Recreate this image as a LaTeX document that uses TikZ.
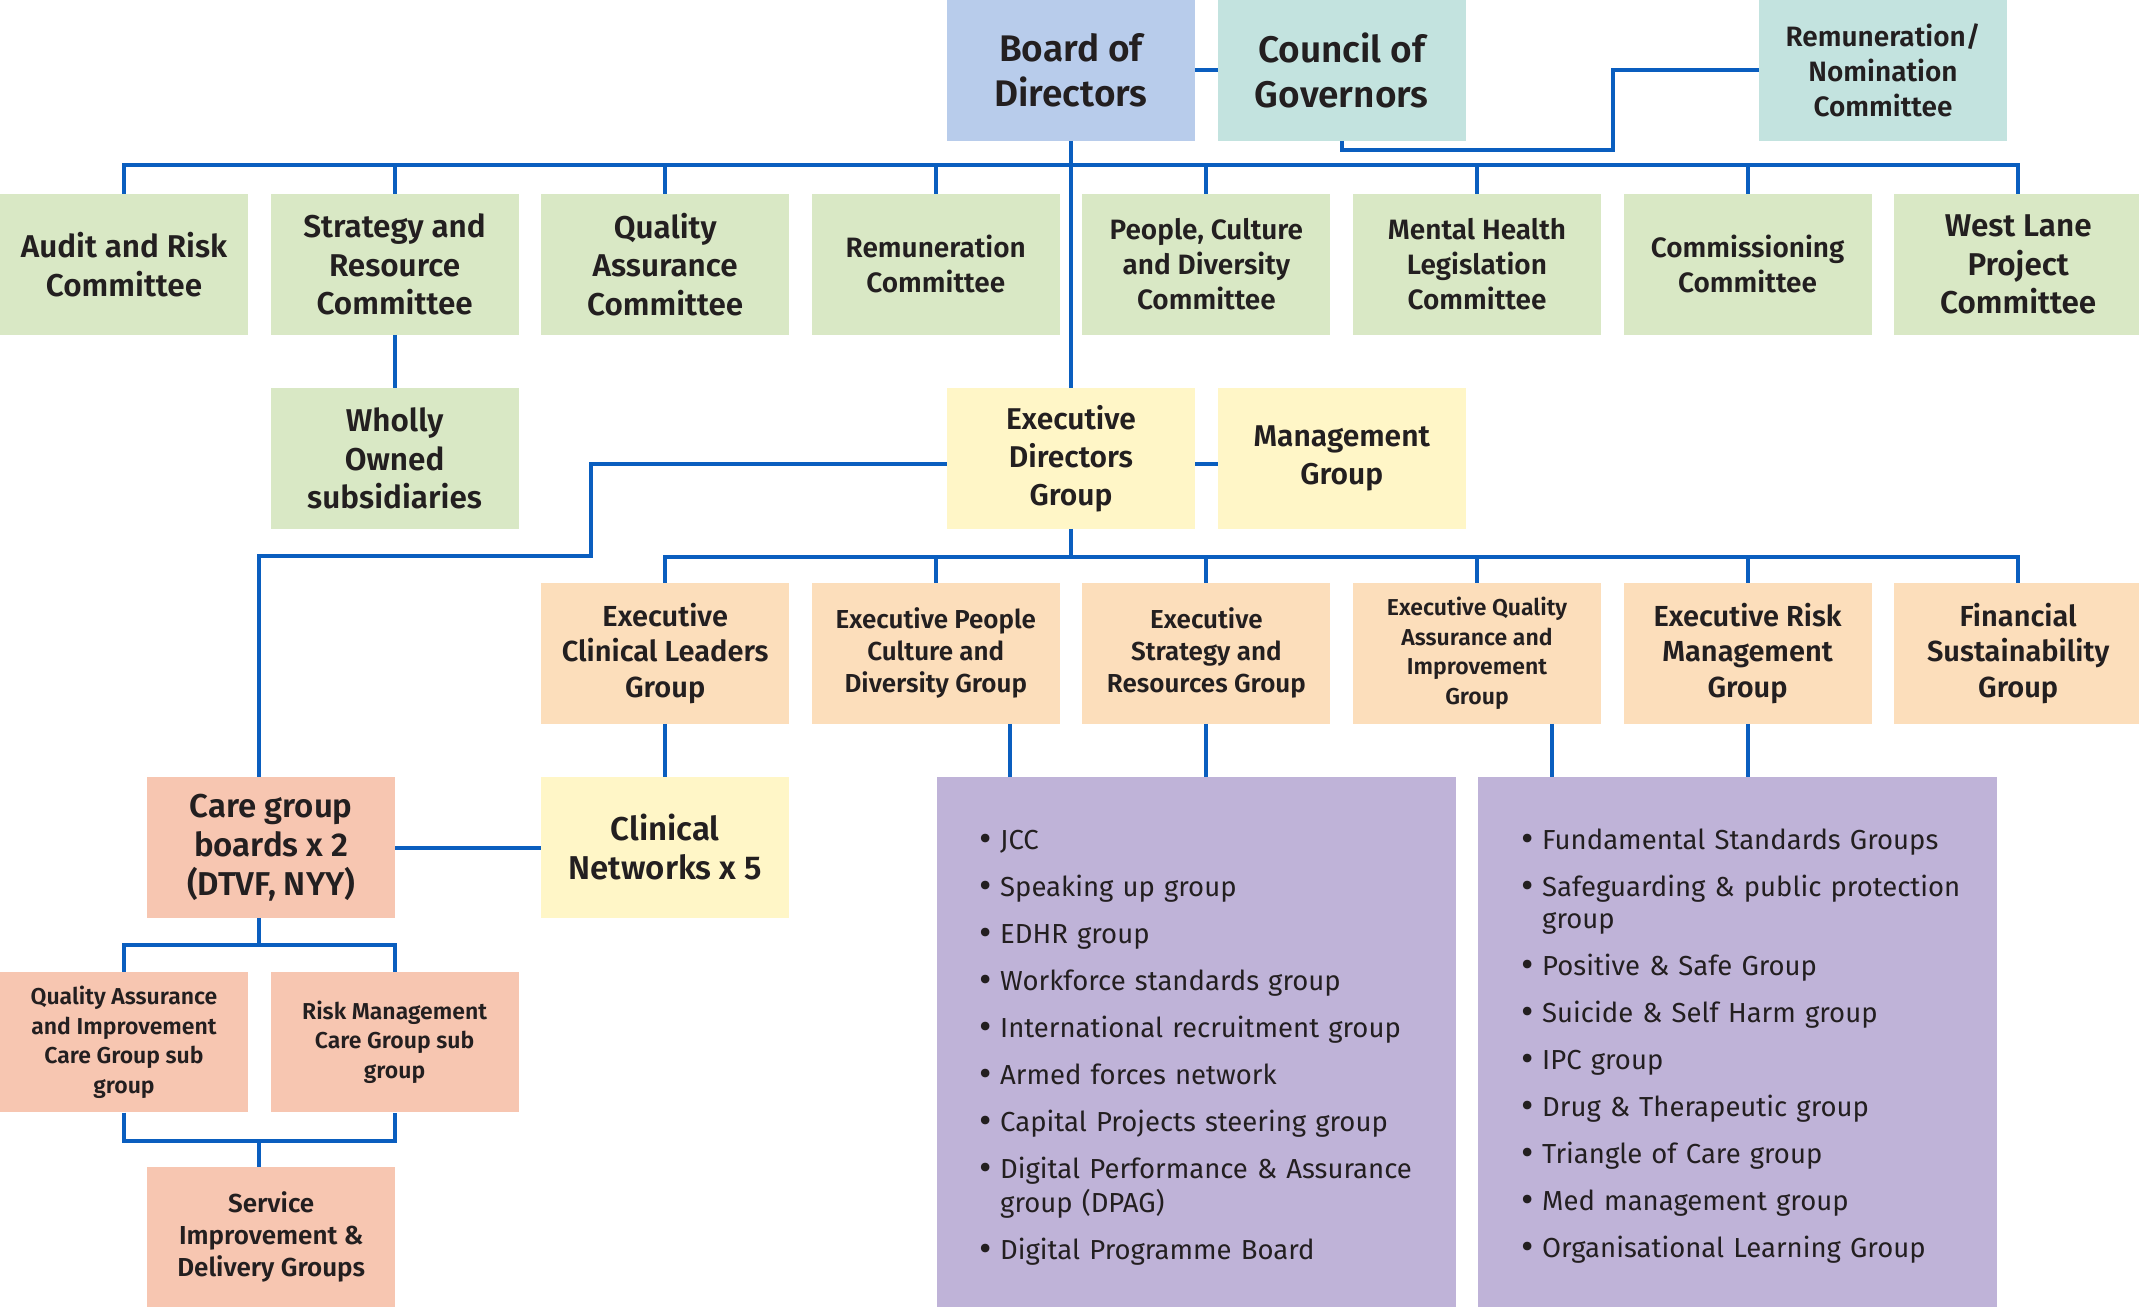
\documentclass[tikz,border=0pt]{standalone}
\usepackage{fontspec}
\setmainfont{Fira Sans}[BoldFont={Fira Sans SemiBold}]
\definecolor{cbod}{HTML}{B8CCEB}
\definecolor{cgov}{HTML}{C3E3DF}
\definecolor{cgreen}{HTML}{D9E8C5}
\definecolor{cyellow}{HTML}{FFF6C7}
\definecolor{cpeach}{HTML}{FCDEBB}
\definecolor{csalmon}{HTML}{F7C6B1}
\definecolor{cpurple}{HTML}{BFB3D8}
\definecolor{lineblue}{HTML}{0A5EBF}
\definecolor{txt}{HTML}{231F20}
\newcommand\bulA{\makebox[21pt][l]{\raisebox{-2.5pt}{\fontsize{38}{32}\selectfont\textbullet}}}
\newcommand\bitemA[1]{\par\hangindent=21pt\hangafter=1\noindent\bulA\strut#1}
\begin{document}
\begin{tikzpicture}[x=1pt,y=-1pt,
  conn/.style={draw=lineblue, line width=4pt, line join=miter},
  box/.style={inner sep=0pt, minimum width=248pt, minimum height=140.5pt, align=center, text=txt},
  fs/.style 2 args={font=\bfseries\fontsize{#1}{#2}\selectfont},
  listtext/.style={inner sep=0pt, anchor=north west, text width=520pt, align=left, text=txt, font=\fontsize{27.5}{32}\selectfont},
]
\useasboundingbox (0,0) rectangle (2139,1307);

% helper coordinates
\coordinate (bus1) at (0,165);
\coordinate (bus2) at (0,557);
\coordinate (bus3) at (0,945);
\coordinate (bus4) at (0,1140.8);
\coordinate (r1) at (1612.8,150);
\coordinate (k1) at (591.4,464);
\coordinate (k2) at (258.5,555.7);
\coordinate (t1) at (1010,0);
\coordinate (t2) at (1552,0);
\coordinate (t3) at (258.5,0);
\coordinate (em) at (0,464);

% top row
\node[box, fill=cbod, fs={37}{45}] (board) at (1071,70.35) {Board of\\Directors};
\node[box, fill=cgov, fs={37}{45}] (council) at (1341.8,70.35) {Council of\\Governors};
\node[box, fill=cgov, fs={28}{35}] (remnom) at (1883,70.35) {Remuneration/\\Nomination\\Committee};

% committees
\node[box, fill=cgreen, fs={31.5}{39}] (audit) at (124,264.4) {Audit and Risk\\Committee};
\node[box, fill=cgreen, fs={31.5}{38.5}] (strat) at (394.6,264.4) {Strategy and\\Resource\\Committee};
\node[box, fill=cgreen, fs={31.5}{38.5}] (qual) at (665.2,264.4) {Quality\\Assurance\\Committee};
\node[box, fill=cgreen, fs={28}{35}] (remu) at (935.8,264.4) {Remuneration\\Committee};
\node[box, fill=cgreen, fs={28}{35}] (people) at (1206.4,264.4) {People, Culture\\and Diversity\\Committee};
\node[box, fill=cgreen, fs={28}{35}] (mhl) at (1477,264.4) {Mental Health\\Legislation\\Committee};
\node[box, fill=cgreen, fs={28}{35}] (comm) at (1747.6,264.4) {Commissioning\\Committee};
\node[box, fill=cgreen, fs={31.5}{38.5}] (west) at (2018.2,264.4) {West Lane\\Project\\Committee};

% row C
\node[box, fill=cgreen, fs={31.5}{38.5}] (wholly) at (394.6,458.4) {Wholly\\Owned\\subsidiaries};
\node[box, fill=cyellow, fs={30}{38}] (execdir) at (1071,458.4) {Executive\\Directors\\Group};
\node[box, fill=cyellow, fs={30}{38}] (mgmt) at (1341.8,458.4) {Management\\Group};

% exec groups
\node[box, fill=cpeach, fs={29}{35.5}] (ecl) at (665.2,653.3) {Executive\\Clinical Leaders\\Group};
\node[box, fill=cpeach, fs={26}{32}] (epc) at (935.8,653.3) {Executive People\\Culture and\\Diversity Group};
\node[box, fill=cpeach, fs={26}{32}] (esr) at (1206.4,653.3) {Executive\\Strategy and\\Resources Group};
\node[box, fill=cpeach, fs={23}{29.4}] (eqa) at (1477,653.3) {Executive Quality\\Assurance and\\Improvement\\Group};
\node[box, fill=cpeach, fs={29}{35.5}] (erm) at (1747.6,653.3) {Executive Risk\\Management\\Group};
\node[box, fill=cpeach, fs={29}{35.5}] (fsg) at (2018.2,653.3) {Financial\\Sustainability\\Group};

% row E
\node[box, fill=csalmon, fs={33}{39}] (care) at (271.2,847.5) {Care group\\boards x 2\\(DTVF, NYY)};
\node[box, fill=cyellow, fs={33}{39}] (clin) at (665.2,847.5) {Clinical\\Networks x 5};

% row F, G
\node[box, fill=csalmon, fs={23}{29.4}] (qasub) at (124,1042.2) {Quality Assurance\\and Improvement\\Care Group sub\\group};
\node[box, fill=csalmon, fs={23}{29.4}] (rmsub) at (394.6,1042.2) {Risk Management\\Care Group sub\\group};
\node[box, fill=csalmon, fs={26}{32}] (serv) at (271.2,1237.2) {Service\\Improvement \&\\Delivery Groups};

% purple boxes
\node[inner sep=0pt, fill=cpurple, minimum width=519pt, minimum height=529.7pt] (p1) at (1196.5,1042.15) {};
\node[inner sep=0pt, fill=cpurple, minimum width=519pt, minimum height=529.7pt] (p2) at (1737.5,1042.15) {};
\node[listtext] (p1list) at (979,817) {%
\bitemA{JCC}\setlength\parskip{15pt}%
\bitemA{Speaking up group}%
\bitemA{EDHR group}%
\bitemA{Workforce standards group}%
\bitemA{International recruitment group}%
\bitemA{Armed forces network}%
\bitemA{Capital Projects steering group}%
\bitemA{Digital Performance \& Assurance\newline group (DPAG)}%
\bitemA{Digital Programme Board}};
\node[listtext] (p2list) at (1521,817) {%
\bitemA{Fundamental Standards Groups}\setlength\parskip{15pt}%
\bitemA{Safeguarding \& public protection\newline group}%
\bitemA{Positive \& Safe Group}%
\bitemA{Suicide \& Self Harm group}%
\bitemA{IPC group}%
\bitemA{Drug \& Therapeutic group}%
\bitemA{Triangle of Care group}%
\bitemA{Med management group}%
\bitemA{Organisational Learning Group}};

% connectors
\draw[conn] (board.east) -- (council.west);
\draw[conn] (council.south) |- (r1) |- (remnom.west);
\draw[conn] (audit.north) |- (bus1 -| west.north) -- (west.north);
\foreach \n in {strat,qual,remu,people,mhl,comm}
  \draw[conn] (\n.north) -- (\n.north |- bus1);
\draw[conn] (board.south) -- (execdir.north);
\draw[conn] (strat.south) -- (wholly.north);
\draw[conn] (execdir.east |- em) -- (mgmt.west |- em);
\draw[conn] (execdir.south) -- (execdir.south |- bus2);
\draw[conn] (ecl.north) |- (bus2 -| fsg.north) -- (fsg.north);
\foreach \n in {epc,esr,eqa,erm}
  \draw[conn] (\n.north) -- (\n.north |- bus2);
\draw[conn] (execdir.west |- k1) -- (k1) |- (k2) -- (k2 |- care.north);
\draw[conn] (ecl.south) -- (clin.north);
\draw[conn] (care.east) -- (clin.west);
\draw[conn] (epc.south -| t1) -- (p1.north -| t1);
\draw[conn] (esr.south) -- (esr.south |- p1.north);
\draw[conn] (eqa.south -| t2) -- (p2.north -| t2);
\draw[conn] (erm.south) -- (erm.south |- p2.north);
\draw[conn] (care.south -| t3) -- (t3 |- bus3);
\draw[conn] (qasub.north) |- (bus3 -| rmsub.north) -- (rmsub.north);
\draw[conn] (qasub.south) |- (bus4 -| rmsub.south) -- (rmsub.south);
\draw[conn] (t3 |- bus4) -- (serv.north -| t3);
\end{tikzpicture}
\end{document}
